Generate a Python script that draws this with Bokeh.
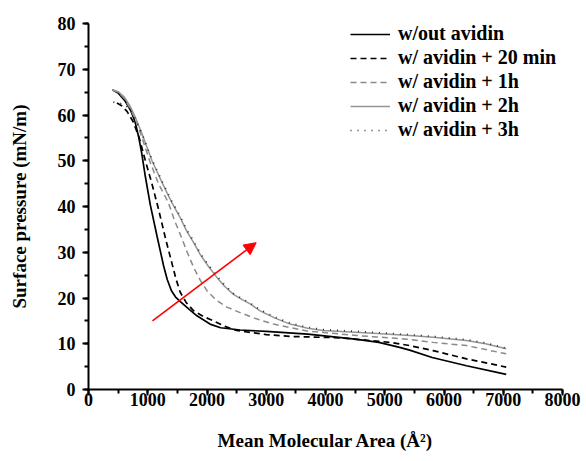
from bokeh.plotting import figure
from bokeh.models import Arrow, NormalHead, Legend, LegendItem, SingleIntervalTicker
from bokeh.embed import file_html
from bokeh.resources import INLINE

# ---- data ----
wout_x = [400, 500, 620, 720, 790, 850, 900, 960, 1044, 1157, 1268, 1330, 1400, 1470, 1550, 1700, 1830, 2050, 2230, 2560, 3000, 3700, 4500, 4900, 5250, 5420, 5800, 6380, 7050]
wout_y = [65.5, 64.8, 63.0, 60.8, 58.3, 55.0, 51.5, 46.5, 40.3, 33.5, 27.0, 24.0, 21.6, 20.2, 19.2, 17.5, 16.1, 14.3, 13.5, 13.0, 12.7, 12.1, 11.0, 10.3, 9.2, 8.6, 7.0, 5.2, 3.3]

min20_x = [480, 560, 650, 750, 850, 960, 1070, 1180, 1300, 1400, 1480, 1550, 1650, 1774, 1950, 2110, 2300, 2500, 3000, 3400, 4240, 5090, 5420, 5815, 6380, 7050]
min20_y = [62.6, 62.0, 60.8, 58.6, 55.3, 50.0, 45.0, 39.5, 33.0, 28.0, 24.0, 21.2, 19.0, 17.2, 15.9, 15.0, 13.8, 12.9, 12.0, 11.6, 11.3, 10.3, 9.6, 8.5, 6.7, 4.9]

h1_x = [400, 500, 600, 700, 800, 900, 1032, 1180, 1350, 1450, 1549, 1660, 1774, 1890, 1999, 2150, 2336, 2560, 2800, 3121, 3683, 4525, 5367, 5815, 6377, 7050]
h1_y = [65.5, 65.0, 63.7, 61.5, 58.8, 55.2, 50.0, 45.0, 40.8, 37.0, 33.9, 30.2, 26.7, 23.8, 21.6, 19.6, 18.0, 16.8, 15.6, 14.3, 12.8, 11.8, 11.0, 10.3, 9.6, 7.8]

h2_x = [400, 500, 600, 700, 800, 900, 1072, 1250, 1400, 1550, 1662, 1780, 1886, 2020, 2167, 2300, 2447, 2600, 2728, 2897, 3150, 3402, 3700, 3963, 4805, 5422, 5815, 6377, 6700, 7050]
h2_y = [65.5, 65.1, 64.0, 62.0, 59.2, 56.0, 50.0, 45.0, 41.0, 37.5, 34.5, 32.0, 29.5, 27.0, 24.5, 22.5, 20.8, 19.6, 18.7, 17.2, 15.6, 14.3, 13.4, 12.9, 12.3, 11.8, 11.4, 10.7, 10.0, 8.9]

h3_x = [420, 520, 620, 700, 800, 900, 1072, 1250, 1400, 1550, 1662, 1780, 1886, 2020, 2167, 2300, 2447, 2600, 2728, 2897, 3150, 3402, 3700, 3963, 4805, 5422, 5815, 6377, 6700, 7050]
h3_y = [62.8, 62.6, 62.2, 61.2, 59.0, 56.0, 50.2, 45.3, 41.3, 37.8, 34.8, 32.3, 29.8, 27.3, 24.8, 22.8, 21.0, 19.8, 18.9, 17.4, 15.8, 14.5, 13.6, 13.1, 12.5, 12.0, 11.6, 10.9, 10.2, 9.0]

series_names = ["w/out avidin", "w/ avidin + 20 min", "w/ avidin + 1h", "w/ avidin + 2h", "w/ avidin + 3h"]

arrow_start = (1080, 15.0)
arrow_end = (2830, 32.1)

FONT = "Liberation Serif"

p = figure(width=586, height=461, x_range=(0, 8000), y_range=(0, 80),
           output_backend="svg", toolbar_location=None,
           min_border_left=88, min_border_right=24, min_border_top=23, min_border_bottom=72)
p.outline_line_color = None
p.xgrid.visible = False
p.ygrid.visible = False
p.background_fill_color = "white"
p.border_fill_color = "white"

r1 = p.line(wout_x, wout_y, line_color="black", line_width=1.7)
r2 = p.line(min20_x, min20_y, line_color="black", line_width=1.7, line_dash="6 4")
r3 = p.line(h1_x, h1_y, line_color="#8a8a8a", line_width=1.5, line_dash="6 4")
r4 = p.line(h2_x, h2_y, line_color="#959595", line_width=1.5)
r5 = p.line(h3_x, h3_y, line_color="#2a2a2a", line_width=1.7, line_dash="1 6")

p.add_layout(Arrow(end=NormalHead(size=12, fill_color="red", line_color="red"),
                   x_start=arrow_start[0], y_start=arrow_start[1],
                   x_end=arrow_end[0], y_end=arrow_end[1],
                   line_color="red", line_width=1.6))

for ax in (p.xaxis[0], p.yaxis[0]):
    ax.axis_line_width = 2
    ax.major_tick_line_width = 2
    ax.minor_tick_line_width = 2
    ax.major_tick_out = 6
    ax.major_tick_in = 0
    ax.minor_tick_out = 4
    ax.minor_tick_in = 0
    ax.major_label_text_font = FONT
    ax.major_label_text_font_style = "bold"
    ax.major_label_text_font_size = "18px"
    ax.major_label_text_color = "black"
    ax.axis_label_text_font = FONT
    ax.axis_label_text_font_style = "bold"
    ax.axis_label_text_font_size = "19px"
    ax.axis_label_text_color = "black"

p.xaxis.ticker = SingleIntervalTicker(interval=1000, num_minor_ticks=2)
p.yaxis.ticker = SingleIntervalTicker(interval=10, num_minor_ticks=2)
p.xaxis.axis_label = "Mean Molecular Area (Å²)"
p.yaxis.axis_label = "Surface pressure (mN/m)"
p.xaxis.major_label_standoff = -3
p.yaxis.major_label_standoff = 7
p.xaxis.axis_label_standoff = 21
p.yaxis.axis_label_standoff = 25

legend = Legend(items=[LegendItem(label=n, renderers=[r]) for n, r in zip(series_names, [r1, r2, r3, r4, r5])],
                location=(262, 248))
legend.border_line_color = None
legend.background_fill_alpha = 0
legend.padding = 0
legend.margin = 0
legend.spacing = 1
legend.glyph_width = 40
legend.glyph_height = 20
legend.label_height = 20
legend.label_standoff = 8
legend.label_text_font = FONT
legend.label_text_font_style = "bold"
legend.label_text_font_size = "20px"
legend.label_text_color = "black"
p.add_layout(legend)

open("out.html", "w").write(file_html(p, INLINE))
